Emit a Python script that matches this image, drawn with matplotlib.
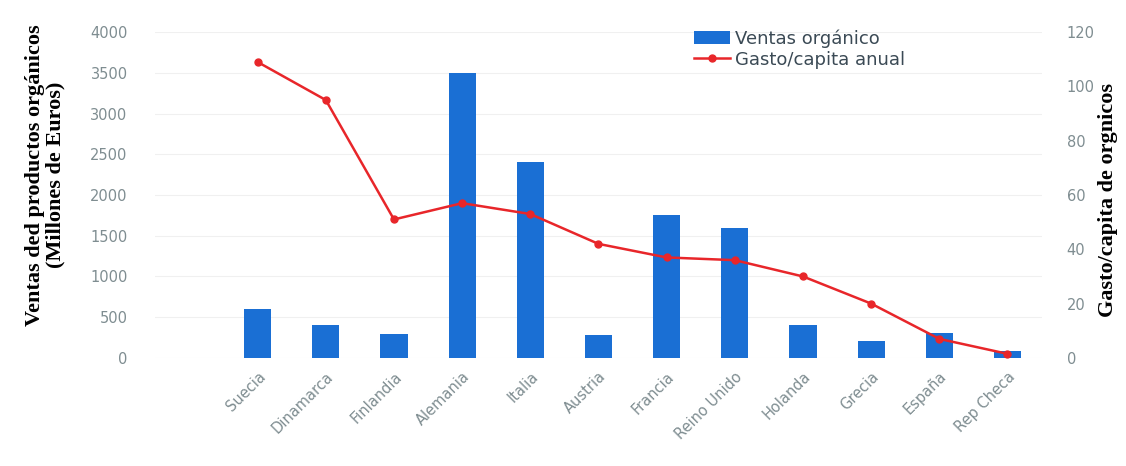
import matplotlib.pyplot as plt
import numpy as np

# Datos
paises = ['Suecia', 'Dinamarca', 'Finlandia', 'Alemania', 'Italia', 'Austria',
          'Francia', 'Reino Unido', 'Holanda', 'Grecia', 'España', 'Rep Checa']
ventas = [600, 400, 290, 3500, 2400, 280, 1750, 1600, 400, 210, 300, 90]
gasto = [109, 95, 51, 57, 53, 42, 37, 36, 30, 20, 7, 1.5]
ticks_izq = [0, 500, 1000, 1500, 2000, 2500, 3000, 3500, 4000]
ticks_der = [0, 20, 40, 60, 80, 100, 120]

azul = '#1a6fd4'
rojo = '#e8262a'
gris = '#7f8d91'

fig = plt.figure(figsize=(11.26, 4.66), dpi=100)
ax = fig.add_axes([0.138, 0.232, 0.787, 0.699])
ax2 = ax.twinx()

x = np.arange(len(paises))
barras = ax.bar(x, ventas, width=0.4, color=azul, zorder=2, label='Ventas orgánico')
linea, = ax2.plot(x, gasto, color=rojo, lw=1.8, marker='o', ms=5, zorder=3,
                  label='Gasto/capita anual')

ax.set_xlim(-1.5, 11.5)
ax.set_ylim(0, 4000)
ax2.set_ylim(0, 120)
ax.set_yticks(ticks_izq)
ax2.set_yticks(ticks_der)
ax.grid(axis='y', color='#f0f0f0', lw=0.8, zorder=0)

ax.set_xticks(x)
ax.set_xticklabels(paises, rotation=45, ha='right', rotation_mode='anchor')

for a in (ax, ax2):
    for s in a.spines.values():
        s.set_visible(False)
    a.tick_params(length=0, labelsize=10.5, labelcolor=gris)
ax.tick_params(axis='y', pad=20)
ax2.tick_params(axis='y', pad=18)
ax.tick_params(axis='x', pad=8)

# Etiquetas de ejes
fig.text(0.04, 0.625, 'Ventas ded productos orgánicos\n(Millones de Euros)',
         rotation=90, ha='center', va='center', fontsize=16, fontweight='bold',
         family='Liberation Serif', linespacing=1.0)
fig.text(0.984, 0.57, 'Gasto/capita de orgnicos', rotation=90, ha='center',
         va='center', fontsize=16, fontweight='bold', family='Liberation Serif')

leg = ax.legend([barras, linea], ['Ventas orgánico', 'Gasto/capita anual'],
                loc='upper left', bbox_to_anchor=(0.589, 1.058), frameon=False,
                fontsize=13, handlelength=2.0, handletextpad=0.3,
                labelspacing=0.15)
for t in leg.get_texts():
    t.set_color('#3b4a55')

fig.savefig('out.png', dpi=100)
